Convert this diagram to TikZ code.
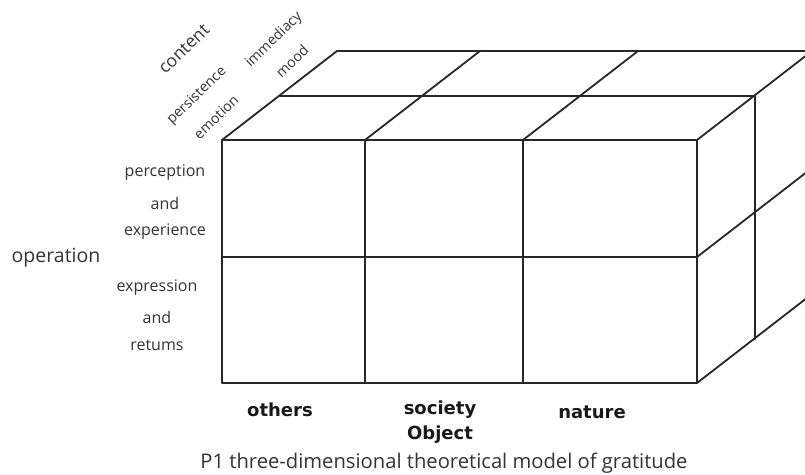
\documentclass[tikz,border=0pt]{standalone}
\usepackage{fontspec}
\setmainfont{Open Sans}
\newfontfamily\objfont{DejaVu Sans}
\begin{document}
\begin{tikzpicture}[x=1pt,y=-1pt]
	\tikzstyle{every node}=[inner sep=0pt, text=black!80, font=\fontsize{16}{18}\selectfont]
	\tikzstyle{cubeline}=[line width=1.8pt, black!85, line cap=round, line join=round]
	\tikzstyle{axis}=[font=\fontsize{19.5}{21}\selectfont]
	\tikzstyle{depth}=[rotate=44, font=\fontsize{14.2}{16}\selectfont]
	\tikzstyle{obj}=[font=\objfont\bfseries\fontsize{18}{20}\selectfont, text=black!90]
	\useasboundingbox (0,0) rectangle (805,474);
	\clip (0,0) rectangle (805,474);
	% front face
	\coordinate (f1) at (222,140);
	\coordinate (f2) at (697,140);
	\coordinate (f3) at (697,383);
	\coordinate (f4) at (222,383);
	\draw[cubeline] (f1) -- (f2) -- (f3) -- (f4) -- cycle;
	\draw[cubeline] (365,140) -- (365,383);
	\draw[cubeline] (523,140) -- (523,383);
	\draw[cubeline] (222,257) -- (697,257);
	% top face
	\coordinate (m1) at (280,96);
	\coordinate (m2) at (755,96);
	\coordinate (m3) at (755,339);
	\coordinate (b1) at (337,51);
	\coordinate (b2) at (812,51);
	\coordinate (b3) at (812,294);
	\draw[cubeline] (f1) -- (b1) -- (b2);
	\draw[cubeline] (m1) -- (m2) -- (m3);
	\draw[cubeline] (365,140) -- (480,51);
	\draw[cubeline] (523,140) -- (638,51);
	\draw[cubeline] (f2) -- (b2);
	% right face
	\draw[cubeline] (697,257) -- (812,168);
	\draw[cubeline] (f3) -- (b3) -- (b2);
	% content labels
	\node[depth, font=\fontsize{17.5}{19}\selectfont] (content) at (184,49) {content};
	\node[depth] (persistence) at (197,96) {persistence};
	\node[depth] (emotion) at (216,117) {emotion};
	\node[depth] (immediacy) at (274,40) {immediacy};
	\node[depth] (mood) at (292,61) {mood};
	% operation labels
	\node[axis] (operation) at (56,258) {operation};
	\node (perception) at (165,173) {perception};
	\node (and1) at (165,203) {and};
	\node (experience) at (165,232) {experience};
	\node (expression) at (157,288) {expression};
	\node (and2) at (157,317) {and};
	\node (retums) at (157,345) {retums};
	% object labels
	\node[obj] (others) at (280,410) {others};
	\node[obj] (society) at (440,410) {society};
	\node[obj] (nature) at (592,412) {nature};
	\node[obj] (object) at (440,435) {Object};
	\node[font=\fontsize{20.2}{22}\selectfont] (caption) at (444,463) {P1 three-dimensional theoretical model of gratitude};
\end{tikzpicture}
\end{document}
